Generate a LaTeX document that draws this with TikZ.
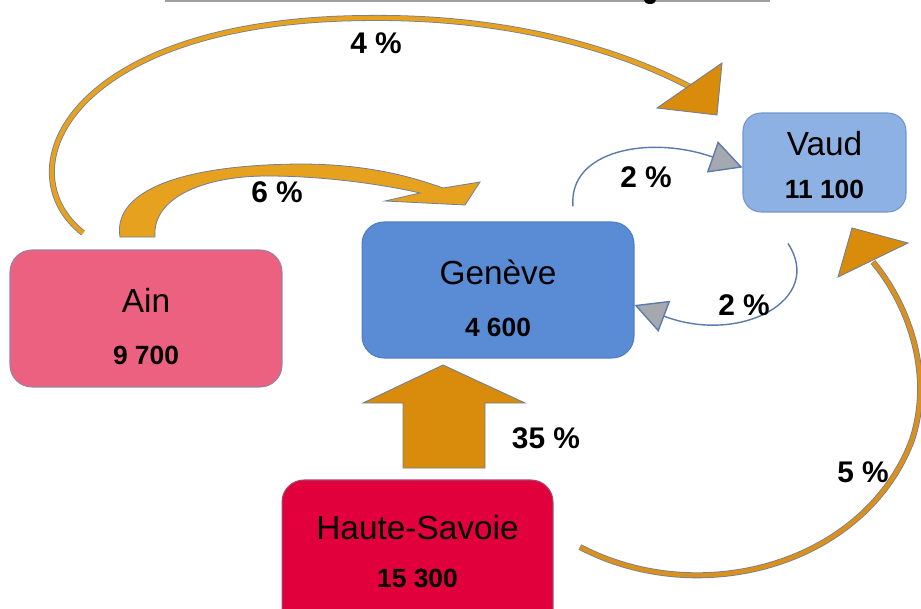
\documentclass[tikz,border=0pt]{standalone}
\usepackage{fontspec}
\setmainfont{Liberation Sans}
\usetikzlibrary{arrows.meta,shapes,positioning}

\definecolor{ainpink}{HTML}{EC6180}
\definecolor{ainedge}{HTML}{9C7FA8}
\definecolor{genblue}{HTML}{5A8CD6}
\definecolor{genedge}{HTML}{4E7DC0}
\definecolor{vaudblue}{HTML}{8EB1E3}
\definecolor{vaudedge}{HTML}{7096CC}
\definecolor{hsred}{HTML}{E1003B}
\definecolor{hsedge}{HTML}{A04870}
\definecolor{orngA}{HTML}{E6A11F}
\definecolor{orngB}{HTML}{D98B0B}
\definecolor{orngC}{HTML}{D9901C}
\definecolor{edge}{HTML}{6F7F96}
\definecolor{lineblue}{HTML}{5B7BA8}
\definecolor{headgray}{HTML}{A6A8B0}

\begin{document}
\begin{tikzpicture}[x=0.02cm,y=-0.02cm,
  box/.style={fill=#1, line width=0.6pt, rounded corners=0.44cm, inner sep=0pt},
  town/.style={anchor=base, font=\fontsize{19}{22}\selectfont},
  pop/.style={anchor=base, font=\bfseries\fontsize{15}{18}\selectfont},
  pct/.style={anchor=base, font=\bfseries\fontsize{17}{20}\selectfont},
  band/.style={draw=edge, line width=0.45pt, double=#1, double distance=2.5pt},
  flow/.style={draw=lineblue, line width=0.8pt,
    -{Triangle[length=0.64cm,width=0.66cm,fill=headgray]}},
  block/.style={fill=#1, draw=edge, line width=0.5pt, line join=miter}]

  \useasboundingbox (0,0) rectangle (921,609);
  \clip (0,0) rectangle (921,609);
  \fill[white] (0,0) rectangle (921,609);

  % top rule of the cut-off title
  \draw[gray!75, line width=0.9pt] (165,1) -- (770,1);
  \fill (650,0) ellipse[x radius=0.12cm, y radius=0.08cm];

  % departements / cantons
  \node[box=ainpink, draw=ainedge, minimum width=5.44cm, minimum height=2.74cm] (ain) at (146,318.5) {};
  \node[box=genblue, draw=genedge, minimum width=5.44cm, minimum height=2.72cm] (gen) at (498,290) {};
  \node[box=vaudblue, draw=vaudedge, minimum width=3.26cm, minimum height=1.98cm, rounded corners=0.36cm] (vaud) at (824.5,162.5) {};
  \node[box=hsred, draw=hsedge, minimum width=5.42cm, minimum height=3.2cm] (hs) at (417.5,560) {};

  \node[town] (ainname) at ([yshift=0.13cm]ain.center) {Ain};
  \node[pop] (ainpop) at ([yshift=-0.93cm]ain.center) {9 700};
  \node[town] (genname) at ([yshift=0.12cm]gen.center) {Genève};
  \node[pop] (genpop) at ([yshift=-0.94cm]gen.center) {4 600};
  \node[town] (vaudname) at ([yshift=0.15cm]vaud.center) {Vaud};
  \node[pop] (vaudpop) at ([yshift=-0.73cm]vaud.center) {11 100};
  \node[town] (hsname) at ([yshift=-1.2cm]hs.north) {Haute-Savoie};
  \node[pop] (hspop) at ([yshift=-2.16cm]hs.north) {15 300};

  % Ain -> Vaud
  \draw[band=orngA] (83,233) .. controls (3,170) and (70,20) .. (367,18)
    .. controls (530,16) and (640,60) .. (692,88);
  \draw[block=orngB] (722,63) -- (717,115) -- (657,108) -- cycle;

  % Ain -> Geneve
  \draw[block=orngA, line width=0.45pt] (120,237) .. controls (113,195) and (170,165) .. (300,164)
    .. controls (365,164) and (410,176) .. (443,188) -- (480,182) -- (465,205) -- (385,201)
    -- (420,193) .. controls (390,186) and (330,176) .. (267,176)
    .. controls (205,176) and (152,197) .. (155,237) -- cycle;

  % Haute-Savoie -> Geneve
  \draw[block=orngB] (403,468) -- (403,403) -- (363,403) -- (443,365)
    -- (525,403) -- (485,403) -- (485,468) -- cycle;

  % Haute-Savoie -> Vaud
  \draw[band=orngC] (580,547) .. controls (700,610) and (865,565) .. (912,440)
    .. controls (935,370) and (905,300) .. (873,262);
  \draw[block=orngB] (852,228) -- (908,243) -- (838,277) -- cycle;

  % Geneve <-> Vaud
  \draw[flow] ([xshift=1.5cm,yshift=0.3cm]gen.north) .. controls (568,150) and (650,135) .. ([yshift=-0.1cm]vaud.west);
  \draw[flow] ([xshift=-0.73cm,yshift=-0.62cm]vaud.south) .. controls (825,300) and (740,345) .. ([yshift=-0.3cm]gen.east);

  % shares
  \node[pct] (p4) at (376,53) {4 \%};
  \node[pct] (p6) at (277,202) {6 \%};
  \node[pct] (p2a) at (646,187) {2 \%};
  \node[pct] (p2b) at (744,315) {2 \%};
  \node[pct] (p35) at (546,448) {35 \%};
  \node[pct] (p5) at (863,482) {5 \%};
\end{tikzpicture}
\end{document}
